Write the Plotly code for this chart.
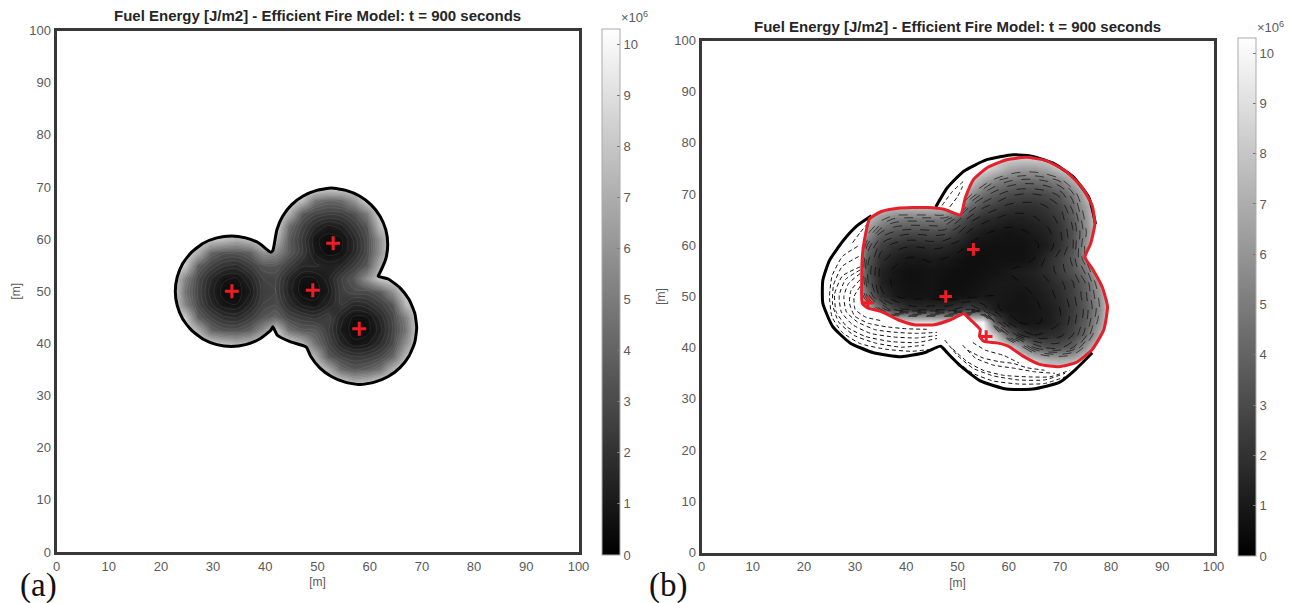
import plotly.graph_objects as go

W, H = 1296, 603
TITLE = "Fuel Energy [J/m2] - Efficient Fire Model: t = 900 seconds"
TICKS = [0, 10, 20, 30, 40, 50, 60, 70, 80, 90, 100]
CB_TICKS = [0, 1, 2, 3, 4, 5, 6, 7, 8, 9, 10]
Z_MAX = 10.3

# Panel (a): fuel energy [10^6 J/m2] read on a 2.5 m grid
a_x = [22, 24.5, 27, 29.5, 32, 34.5, 37, 39.5, 42, 44.5, 47, 49.5, 52, 54.5, 57, 59.5, 62, 64.5, 67, 69.5]
a_y = [70, 67.5, 65, 62.5, 60, 57.5, 55, 52.5, 50, 47.5, 45, 42.5, 40, 37.5, 35, 32.5, 30]
a_z = [
    [8.8] * 12 + [8.4, 8.6] + [8.8] * 6,
    [8.8] * 10 + [7.5, 4.6, 4, 4.2, 5.8, 8.4] + [8.8] * 4,
    [8.8] * 9 + [7, 3.6, 2.8, 2.5, 2.6, 3.2, 4.9, 8.6] + [8.8] * 3,
    [8.8] * 8 + [8.5, 4.2, 2.7, 1.6, 1, 1.3, 2.3, 3.4, 7.5] + [8.8] * 3,
    [8.8, 8.8, 8.8, 8, 7.5, 7, 7.5, 8.8, 7.3, 3.6, 2.3, .8, .5, .6, 1.6, 3, 5.8, 8.8, 8.8, 8.8],
    [8.8, 8.8, 7, 4, 3.3, 3.3, 3.8, 5.8, 5.5, 3.6, 2.4, 1, .5, .7, 1.6, 3, 5.8, 8.8, 8.8, 8.8],
    [8.8, 8, 3.8, 2.7, 2, 1.8, 2.5, 3.4, 3.5, 2.5, 1.6, 1.6, 1.3, 1.5, 2.5, 3.5, 7, 8.8, 8.8, 8.8],
    [8.8, 5.2, 2.9, 1.6, .8, .7, 1.5, 2.7, 2.8, 1.5, .7, .7, 1.3, 2.6, 3.5, 5.8, 8, 8.7, 8.8, 8.8],
    [8.7, 4.6, 2.7, 1.3, .5, .5, 1, 2.5, 2.7, 1.3, .5, .5, 1, 2.5, 3, 3, 3.6, 5.8, 8.7, 8.8],
    [8.8, 5.2, 2.9, 1.6, .8, .7, 1.5, 2.7, 3, 1.8, 1, .8, 1.5, 2.3, 1.6, 1.8, 2.5, 3.5, 7.5, 8.8],
    [8.8, 8, 3.8, 2.7, 2, 1.8, 2.5, 3.4, 4, 2.8, 2.4, 2.1, 2.6, 1.3, .6, .7, 1.6, 2.9, 5.2, 8.8],
    [8.8, 8.8, 7, 4, 3.3, 3.3, 3.8, 5.8, 8, 4.5, 3.6, 3.6, 2.4, 1, .5, .5, 1.3, 2.8, 4.7, 8.8],
    [8.8, 8.8, 8.8, 8, 7.5, 7, 7.5, 8.8, 8.8, 8.6, 7.3, 4.5, 2.8, 1.5, .8, 1, 1.8, 3, 5.8, 8.8],
    [8.8] * 11 + [7, 3.6, 2.7, 2.3, 2.4, 2.9, 4.1, 7.5, 8.8],
    [8.8] * 11 + [8.7, 7, 4.2, 3.5, 3.8, 4.6, 7.3, 8.8, 8.8],
    [8.8] * 13 + [8.4, 7.2, 7.5, 8.6, 8.8, 8.8, 8.8],
    [8.8] * 20,
]
a_front_x = [41.44, 42.21, 43.29, 45.01, 47.25, 49.85, 52.65, 55.45, 58.05, 60.29, 62.01, 63.09, 63.45, 63.09, 62.01,
             61.63, 63.55, 65.81, 67.54, 68.63, 69.0, 68.63, 67.54, 65.81, 63.55, 60.93, 58.1, 55.27, 52.65, 50.39,
             48.66, 47.85, 44.87, 42.3, 41.44, 41.04, 38.82, 36.23, 33.47, 30.7, 28.12, 25.89, 24.18, 23.13, 22.76,
             23.13, 24.18, 25.89, 28.12, 30.7, 33.47, 36.23, 38.82, 41.04, 41.44]
a_front_y = [57.8, 61.77, 64.35, 66.57, 68.27, 69.34, 69.8, 69.34, 68.27, 66.57, 64.35, 61.77, 59, 56.23, 53.65, 52.9,
             52.35, 50.64, 48.4, 45.8, 43, 40.2, 37.6, 35.36, 33.65, 32.57, 32.1, 32.57, 33.65, 35.36, 37.6, 39.3,
             40.3, 41.57, 43.2, 42.5, 40.8, 39.76, 39.4, 39.76, 40.8, 42.5, 44.7, 47.26, 50, 52.74, 55.3, 57.5, 59.2,
             60.24, 60.6, 60.24, 59.2, 57.5, 57.8]
a_ign_x = [33.6, 53, 49.1, 58]
a_ign_y = [50, 59.2, 50.2, 42.8]

# Panel (b): fuel energy [10^6 J/m2] read on a 2.5 m grid
b_x = [30, 32.5, 35, 37.5, 40, 42.5, 45, 47.5, 50, 52.5, 55, 57.5, 60, 62.5, 65, 67.5, 70, 72.5, 75, 77.5, 80]
b_y = [77.5, 75, 72.5, 70, 67.5, 65, 62.5, 60, 57.5, 55, 52.5, 50, 47.5, 45, 42.5, 40, 37.5, 35]
b_z = [
    [8.8] * 21,
    [8.8] * 11 + [8, 6.8, 6.4, 6.4, 6.8, 8, 8.8, 8.8, 8.8, 8.8],
    [8.8] * 9 + [8, 6.5, 5.2, 4.6, 4.3, 4.3, 4.6, 5.2, 7, 8.5, 8.8, 8.8],
    [8.8] * 9 + [6, 4.4, 3.6, 3, 2.8, 2.8, 3, 3.6, 5, 7.5, 8.8, 8.8],
    [8.8, 8.8, 8, 7.5, 7.5, 7.5, 7.5, 7.5, 6.3, 3.9, 2.9, 2.4, 2, 1.9, 1.9, 2.2, 2.8, 4.2, 6.5, 8.8, 8.8],
    [8.8, 7.5, 6, 5, 4.8, 4.8, 4.8, 4.8, 3.6, 2.4, 1.8, 1.5, 1.3, 1.3, 1.5, 1.8, 2.4, 3.6, 6, 8.8, 8.8],
    [8.8, 6, 4, 3.3, 3, 3, 3.1, 3, 2.3, 1.4, 1.1, .9, .8, .9, 1.1, 1.4, 2.1, 3.3, 5.6, 8.8, 8.8],
    [8.4, 4.4, 2.6, 2, 1.7, 1.7, 1.8, 1.7, 1.3, .9, .7, .7, .7, .7, .9, 1.2, 2, 3.3, 6, 8.8, 8.8],
    [7.5, 3.6, 1.9, 1.3, 1, 1, 1.1, 1, .8, .6, .6, .7, .7, .7, 1, 1.7, 2.5, 3.6, 5.8, 8, 8.8],
    [7.5, 3.2, 1.4, .9, .7, .7, .8, .7, .6, .6, .7, .8, 1, 1.2, 1.4, 1.8, 2.5, 3.3, 4.8, 7.5, 8.8],
    [7.5, 3.5, 1.4, .9, .7, .7, .8, .6, .6, .7, .8, 1, 1, 1, 1.2, 1.5, 2, 2.7, 4, 6.3, 8.8],
    [8.4, 4.4, 2, 1.1, .8, .8, .8, .6, .7, .8, 1, 1, .9, .8, 1, 1.3, 1.8, 2.6, 3.8, 5.8, 8.8],
    [8.8, 7.5, 4.6, 2.8, 2, 1.8, 1.9, 1.9, 2.3, 2.8, 2, 1.1, .8, .8, .9, 1.1, 1.6, 2.4, 3.6, 5.5, 8.8],
    [10, 10, 9, 9, 9, 9, 9, 9, 9, 9.5, 10, 3.2, 1.4, .9, .9, 1.1, 1.6, 2.5, 3.8, 6, 8.8],
    [10] * 10 + [10.3, 8, 3.8, 2.1, 1.6, 1.8, 2, 2.8, 4.3, 7, 8.8],
    [10] * 12 + [8.8, 6.3, 4, 3.3, 3.3, 4, 6.2, 8.4, 8.8],
    [10] * 13 + [8.8, 8.2, 7.3, 7, 7.3, 8.5, 8.8, 8.8],
    [8.8] * 21,
]
b_red_x = [50.58, 51.54, 53.15, 55.73, 59.59, 63.45, 67.31, 71.17, 74.39, 76.32, 76.83, 75.99, 74.9, 76.32, 78.25,
           79.3, 78.57, 76.32, 73.1, 69.88, 66.02, 62.8, 59.91, 57.66, 55.08, 54.31, 54.44, 52.19, 51.22, 48.65,
           45.43, 41.57, 38.35, 35.13, 32.56, 31.4, 31.3, 31.4, 31.8, 32.8, 35.13, 38.35, 44.14, 47.36, 50.58]
b_red_y = [65.96, 69.31, 72.86, 75.11, 76.72, 77.18, 76.53, 74.47, 71.24, 67.7, 64.15, 60.28, 57.71, 55.45, 51.9,
           48.04, 43.52, 39.65, 37.07, 36.3, 36.75, 38.36, 40.3, 40.94, 41.27, 42.23, 43.52, 45.78, 46.62, 45.46,
           44.49, 44.49, 45.46, 47.07, 47.71, 48.68, 53.19, 57.71, 60.93, 65.12, 66.6, 67.25, 67.38, 67.05, 65.96]
b_black_x = [76.32, 73.1, 69.88, 64.73, 59.59, 54.44, 50.58, 48, 46.72, 43.5, 38.99, 33.6, 29, 25.6, 23.7, 23.7,
             25, 27.7, 30.4, 33.2, None, 45.75, 48, 51.22, 55.73, 60.87, 64.73, 68.6, 72.46, 75.67, 76.96]
b_black_y = [39.01, 35.79, 33.21, 31.92, 31.92, 33.53, 36.43, 39.01, 40.3, 39.01, 38.24, 39.01, 40.94, 44.17, 48.68,
             53.19, 57.06, 60.93, 63.83, 65.76, None, 67.5, 71.24, 74.47, 76.72, 77.69, 77.37, 76.08, 73.5, 69.31, 64.15]
b_ign_x = [53.1, 47.7, 32.5, 55.6]
b_ign_y = [59.2, 50, 48.8, 42.2]
# Dashed level lines visible in the burnt-out band
b_dash_x = [30.5, 27.5, 25.5, 25, 25.5, 27.5, 31, 36, 41, 45, None,
            30.7, 27.5, 25.8, 25.6, 26.8, 29.8, 34, 39, 43.5, None,
            31, 27.5, 26, 26.3, 28.5, 32, 37, 42, 46, None,
            31, 28.1, 26.9, 27.3, 29.5, 33, 37.5, 42, 46, None,
            31, 28.7, 27.8, 28.3, 30.5, 34, 38, 42, 46, None,
            31, 29.2, 28.9, 29.9, 32.5, 36, 40, 44, None,
            31, 29.8, 30, 32, 35, None,
            47.5, 50, 53, 57, 62, 67, 71, None,
            50, 53, 57, 62, 67, 71, None,
            49, 52, 55, 59, 64, 68, 72, None,
            51, 53.5, 57, 61, 65, 69, None,
            52, 55, 58, 61, 63.5, 67, None,
            53, 55.5, 59, 62, None,
            47, 49, 51.5, None,
            48.5, 50, 51, None,
            29.5, 31, 32.5]
b_dash_y = [59.8, 57.8, 54, 50, 46, 43, 40.8, 39.7, 39.3, 39.7, None,
            57.8, 55.9, 52.3, 48.5, 45, 42.4, 40.9, 40.1, 40.5, None,
            55.8, 54, 50.5, 47, 44, 42.2, 41.2, 41, 41.8, None,
            55.2, 53.3, 50.2, 47, 44.5, 42.8, 42.1, 41.9, 42.4, None,
            54.5, 52.5, 50, 47, 45, 43.5, 43, 42.8, 43, None,
            53.3, 51.2, 48.7, 46.2, 44.8, 44.1, 43.7, 43.6, None,
            52, 50, 47.5, 46, 45.3, None,
            41.5, 38.5, 36, 34.5, 33.7, 33.7, 35, None,
            37.2, 35, 33.5, 32.9, 33, 34.3, None,
            39.8, 37.2, 35.6, 34.6, 34.3, 34.3, 35.6, None,
            40.5, 38, 36.6, 36, 35.3, 35, None,
            39.5, 38, 37.3, 36.9, 36.1, 35.6, None,
            41, 39.5, 38.5, 37, None,
            67.8, 70.5, 72.8, None,
            67.5, 69.5, 71.5, None,
            60.5, 62.5, 64.3]

GRAY = [[0, "#000000"], [1, "#ffffff"]]
TICK_COL = "#5a5a5a"
FONT = "Liberation Sans"


def colorbar(left, top, length):
    return dict(x=left / W, xanchor="left", xpad=0, y=1 - top / H, yanchor="top", ypad=0,
                thickness=18, thicknessmode="pixels", len=length, lenmode="pixels",
                tickvals=CB_TICKS, ticks="inside", ticklen=3, tickcolor="#777777",
                tickfont=dict(size=13, color=TICK_COL, family=FONT),
                outlinecolor="#aaaaaa", outlinewidth=1)


def mask(rx, ry, fx, fy, xa, ya):
    """White fill of the heat-map rectangle with the front outline cut out."""
    xs = [rx[0], rx[1], rx[1], rx[0], rx[0], None] + fx
    ys = [ry[0], ry[0], ry[1], ry[1], ry[0], None] + fy
    return go.Scatter(x=xs, y=ys, xaxis=xa, yaxis=ya, mode="none", fill="toself", fillcolor="white",
                      line=dict(shape="spline", smoothing=0.5), hoverinfo="skip", showlegend=False)


def line(x, y, xa, ya, color, width, dash="solid"):
    return go.Scatter(x=x, y=y, xaxis=xa, yaxis=ya, mode="lines", connectgaps=False,
                      line=dict(color=color, width=width, dash=dash, shape="spline", smoothing=0.5),
                      hoverinfo="skip", showlegend=False)


def ignitions(x, y, xa, ya, size):
    return go.Scatter(x=x, y=y, xaxis=xa, yaxis=ya, mode="markers", showlegend=False,
                      marker=dict(symbol="cross-thin", size=size, line=dict(color="#ee1c25", width=3)))


def levels(x, y, z, xa, ya, start, end, size, color, dash):
    return go.Contour(x=x, y=y, z=z, xaxis=xa, yaxis=ya, showscale=False, hoverinfo="skip",
                      contours=dict(coloring="none", start=start, end=end, size=size, showlabels=False),
                      line=dict(color=color, width=1, dash=dash, smoothing=1))


fig = go.Figure()
fig.add_trace(go.Heatmap(x=a_x, y=a_y[::-1], z=a_z[::-1], zmin=0, zmax=Z_MAX, zsmooth="best", colorscale=GRAY,
                         xaxis="x", yaxis="y", colorbar=colorbar(602, 29, 526)))
fig.add_trace(levels(a_x, a_y[::-1], a_z[::-1], "x", "y", 0.7, 8.5, 0.4, "rgba(255,255,255,0.08)", "solid"))
fig.add_trace(mask([14, 78], [22, 78], a_front_x, a_front_y, "x", "y"))
fig.add_trace(line(a_front_x, a_front_y, "x", "y", "#000000", 3))
fig.add_trace(ignitions(a_ign_x, a_ign_y, "x", "y", 10))

fig.add_trace(go.Heatmap(x=b_x, y=b_y[::-1], z=b_z[::-1], zmin=0, zmax=Z_MAX, zsmooth="best", colorscale=GRAY,
                         xaxis="x2", yaxis="y2", colorbar=colorbar(1237.5, 38, 518)))
fig.add_trace(levels(b_x, b_y[::-1], b_z[::-1], "x2", "y2", 1, 6, 0.6, "rgba(0,0,0,0.6)", "dash"))
fig.add_trace(mask([22, 88], [28, 85], b_red_x, b_red_y, "x2", "y2"))
fig.add_trace(line(b_dash_x, b_dash_y, "x2", "y2", "#111111", 1, "4px,3px"))
fig.add_trace(line(b_black_x, b_black_y, "x2", "y2", "#000000", 3))
fig.add_trace(line(b_red_x, b_red_y, "x2", "y2", "#e5202a", 3))
fig.add_trace(ignitions(b_ign_x, b_ign_y, "x2", "y2", 9))


def axis(domain, anchor, title=None, **kw):
    return dict(domain=domain, anchor=anchor, range=[0, 100], tickvals=TICKS, ticks="", showgrid=False, zeroline=False,
                mirror=True, showline=True, linecolor="#383838", linewidth=3,
                tickfont=dict(size=13, color=TICK_COL, family=FONT),
                title=dict(text=title, font=dict(size=12, color=TICK_COL, family=FONT), standoff=6), **kw)


def y_dom(top, bottom):
    return [1 - bottom / H, 1 - top / H]


def note(text, px, py, size, color, font=FONT):
    return dict(text=text, xref="paper", yref="paper", x=px / W, y=1 - py / H, showarrow=False,
                xanchor="center", yanchor="middle", font=dict(size=size, color=color, family=font))


fig.update_layout(
    width=W, height=H, margin=dict(l=0, r=0, t=0, b=0, autoexpand=False), paper_bgcolor="white", plot_bgcolor="white",
    xaxis=axis([56.5 / W, 578.5 / W], "y", "[m]"),
    yaxis=axis(y_dom(30.5, 552), "x", "[m]"),
    xaxis2=axis([701.5 / W, 1213.5 / W], "y2", "[m]"),
    yaxis2=axis(y_dom(40.5, 552.5), "x2", "[m]"),
    annotations=[
        note(f"<b>{TITLE}</b>", 317, 16, 15, "#262626"),
        note(f"<b>{TITLE}</b>", 958, 26, 15, "#262626"),
        note("×10<sup>6</sup>", 634, 17, 13, TICK_COL),
        note("×10<sup>6</sup>", 1270, 27, 13, TICK_COL),
        note("(a)", 38, 585, 33, "#111111", "Liberation Serif"),
        note("(b)", 668, 585, 33, "#111111", "Liberation Serif"),
    ],
)
fig.write_html("out.html", post_script="document.body.style.margin='0';", config={"displayModeBar": False})
